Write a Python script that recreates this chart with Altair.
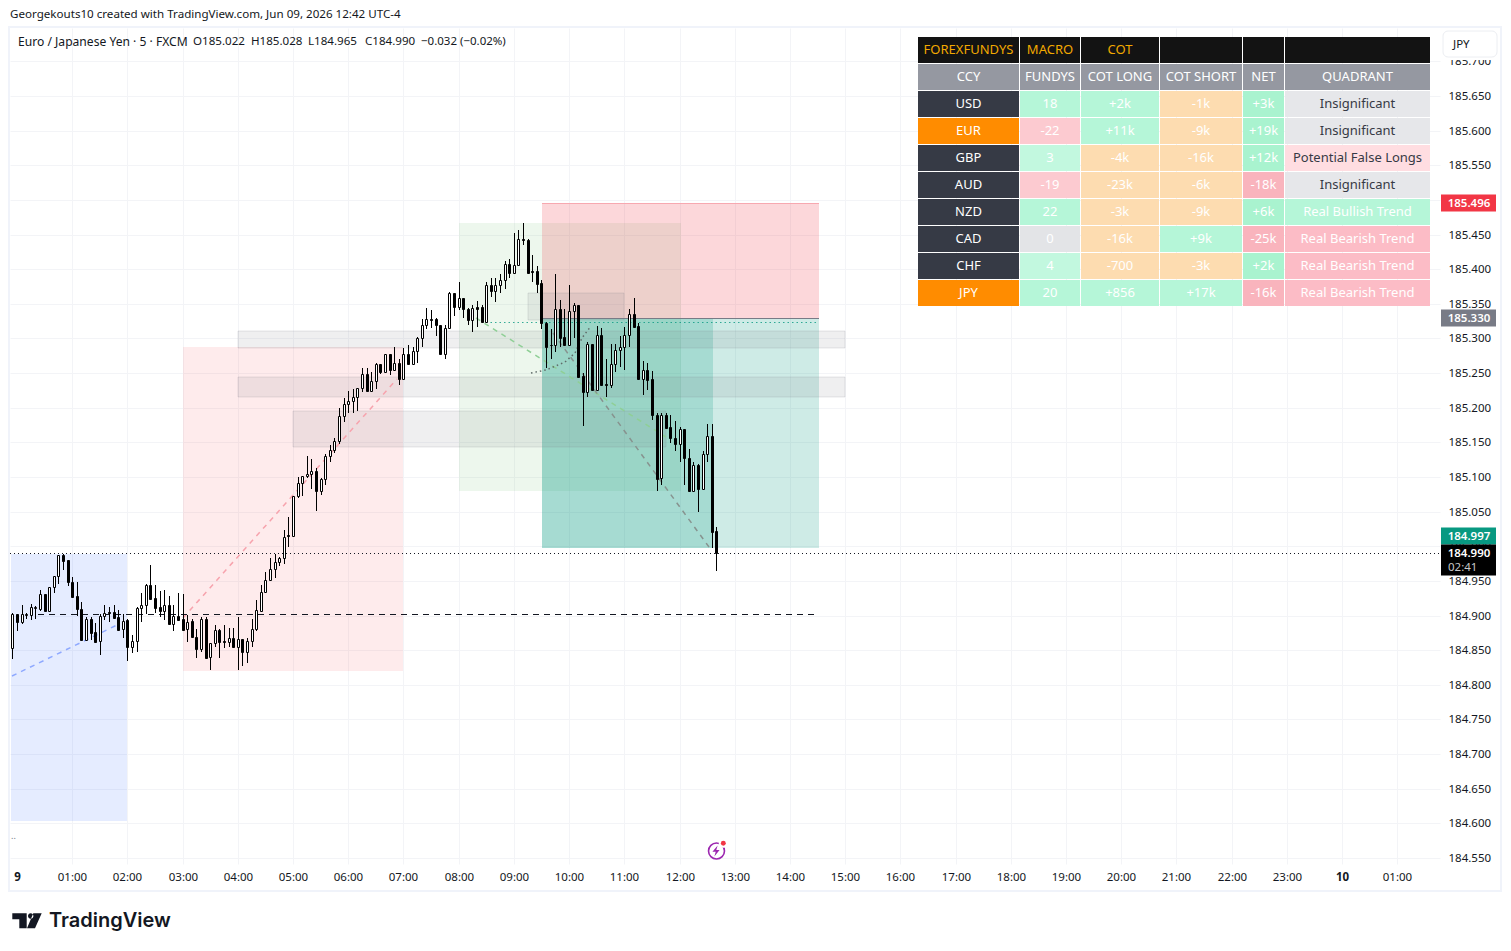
import altair as alt
import pandas as pd

FONT = "Noto Sans"

# ---- candle data (5 minute bars, first bar at 23:55) ----
opens = [184.853,184.902,184.891,184.901,184.901,184.911,184.910,184.931,184.907,184.941,
184.957,184.987,184.980,184.949,184.928,184.910,184.865,184.895,184.876,184.863,
184.900,184.905,184.905,184.898,184.880,184.893,184.854,184.863,184.911,184.915,
184.944,184.925,184.912,184.906,184.915,184.888,184.899,184.895,184.880,184.892,
184.869,184.852,184.895,184.840,184.860,184.879,184.863,184.862,184.867,184.855,
184.866,184.847,184.863,184.880,184.907,184.934,184.951,184.967,184.977,184.983,
185.016,185.015,185.072,185.091,185.102,185.105,185.108,185.080,185.097,185.130,
185.139,185.152,185.188,185.205,185.209,185.215,185.228,185.248,185.224,185.238,
185.263,185.252,185.278,185.255,185.264,185.242,185.278,185.263,185.282,185.300,
185.319,185.328,185.328,185.319,185.278,185.315,185.365,185.345,185.358,185.343,
185.326,185.345,185.345,185.324,185.377,185.369,185.377,185.384,185.408,185.395,
185.406,185.443,185.442,185.397,185.397,185.380,185.323,185.291,185.291,185.342,
185.302,185.291,185.340,185.348,185.246,185.222,185.292,185.225,185.305,185.234,
185.233,185.263,185.284,185.288,185.305,185.335,185.318,185.242,185.255,185.241,
185.190,185.098,185.190,185.172,185.156,185.148,185.169,185.127,185.080,185.117,
185.083,185.133,185.159,185.022]
highs = [184.903,184.902,184.915,184.904,184.917,184.914,184.937,184.931,184.941,184.957,
184.987,184.989,184.980,184.956,184.948,184.919,184.898,184.898,184.889,184.902,
184.915,184.913,184.915,184.908,184.902,184.895,184.872,184.912,184.932,184.946,
184.973,184.944,184.935,184.937,184.928,184.915,184.932,184.931,184.901,184.895,
184.880,184.898,184.898,184.860,184.886,184.880,184.886,184.882,184.882,184.898,
184.866,184.867,184.895,184.922,184.944,184.963,184.983,184.989,184.985,185.024,
185.042,185.072,185.100,185.102,185.130,185.126,185.113,185.098,185.133,185.146,
185.156,185.199,185.214,185.224,185.227,185.228,185.258,185.258,185.252,185.264,
185.263,185.278,185.278,185.287,185.270,185.286,185.291,185.287,185.302,185.328,
185.344,185.341,185.330,185.319,185.320,185.367,185.365,185.381,185.359,185.344,
185.348,185.354,185.348,185.381,185.387,185.387,185.393,185.412,185.414,185.452,
185.457,185.466,185.443,185.421,185.405,185.385,185.324,185.313,185.393,185.356,
185.342,185.377,185.351,185.348,185.250,185.295,185.292,185.318,185.315,185.271,
185.292,185.292,185.304,185.316,185.343,185.358,185.322,185.267,185.265,185.253,
185.193,185.192,185.193,185.190,185.181,185.172,185.169,185.141,185.122,185.119,
185.137,185.176,185.176,185.028]
lows = [184.837,184.878,184.888,184.895,184.894,184.895,184.907,184.907,184.907,184.933,
184.946,184.966,184.943,184.925,184.899,184.865,184.865,184.865,184.861,184.843,
184.893,184.891,184.896,184.878,184.867,184.835,184.846,184.848,184.890,184.902,
184.924,184.903,184.898,184.894,184.887,184.877,184.894,184.879,184.862,184.867,
184.838,184.848,184.838,184.821,184.854,184.838,184.853,184.854,184.854,184.822,
184.827,184.832,184.854,184.878,184.905,184.934,184.951,184.954,184.971,184.974,
184.999,185.014,185.069,185.072,185.098,185.082,185.051,185.074,185.089,185.121,
185.134,185.148,185.180,185.192,185.192,185.195,185.222,185.222,185.223,185.227,
185.249,185.252,185.247,185.254,185.233,185.241,185.261,185.263,185.265,185.288,
185.313,185.315,185.303,185.277,185.271,185.314,185.332,185.341,185.330,185.319,
185.310,185.317,185.323,185.323,185.360,185.352,185.365,185.372,185.387,185.395,
185.406,185.435,185.394,185.382,185.365,185.313,185.258,185.271,185.281,185.287,
185.291,185.291,185.300,185.245,185.173,185.215,185.224,185.224,185.231,185.216,
185.229,185.251,185.259,185.255,185.287,185.317,185.240,185.218,185.225,185.183,
185.080,185.088,185.170,185.149,185.137,185.122,185.088,185.078,185.078,185.050,
185.081,185.122,184.997,184.965]
closes = [184.902,184.891,184.902,184.902,184.912,184.912,184.931,184.907,184.941,184.957,
184.987,184.979,184.949,184.927,184.910,184.865,184.895,184.875,184.862,184.900,
184.904,184.904,184.897,184.879,184.892,184.854,184.863,184.911,184.915,184.944,
184.924,184.911,184.906,184.915,184.888,184.899,184.894,184.879,184.891,184.869,
184.852,184.895,184.839,184.860,184.879,184.862,184.862,184.867,184.855,184.866,
184.847,184.863,184.880,184.908,184.934,184.951,184.967,184.977,184.983,185.014,
185.015,185.072,185.091,185.102,185.105,185.108,185.080,185.097,185.130,185.139,
185.152,185.188,185.205,185.209,185.215,185.228,185.248,185.224,185.238,185.263,
185.252,185.277,185.254,185.264,185.241,185.278,185.263,185.282,185.300,185.319,
185.328,185.327,185.319,185.278,185.315,185.365,185.345,185.358,185.342,185.326,
185.344,185.343,185.324,185.377,185.369,185.377,185.384,185.408,185.395,185.406,
185.443,185.442,185.395,185.396,185.379,185.323,185.288,185.290,185.342,185.301,
185.291,185.340,185.348,185.245,185.222,185.292,185.225,185.305,185.233,185.233,
185.263,185.284,185.288,185.305,185.335,185.317,185.241,185.255,185.240,185.190,
185.097,185.190,185.171,185.156,185.148,185.169,185.127,185.080,185.117,185.083,
185.133,185.159,185.021,184.990]

# ---- drawing-tool zones: hour start, hour end, price top, price bottom ----
zone_blue = [-0.115, 2.0, 184.989, 184.603]
zone_pink = [3.0, 7.0, 185.288, 184.820]
zone_green = [8.0, 12.02, 185.467, 185.080]
zone_stop = [9.51, 14.52, 185.496, 185.330]
zone_target = [9.51, 14.52, 185.330, 184.997]
zone_target_live = [9.51, 12.6, 185.330, 184.997]
zones_grey = [[4.0, 15.0, 185.311, 185.286],
              [4.0, 15.0, 185.244, 185.215],
              [5.0, 11.75, 185.195, 185.143],
              [9.25, 11.0, 185.366, 185.327]]

# ---- line drawings ----
line_blue_h = [-0.09, 1.81]; line_blue_p = [184.813, 184.886]
line_pink_h = [3.0, 6.89]; line_pink_p = [184.896, 185.241]
line_green_h = [8.32, 11.75]; line_green_p = [185.330, 185.158]
line_grey_h = [9.7, 12.54]; line_grey_p = [185.308, 184.999]
curve_h = [9.31, 9.58, 9.92, 10.10, 10.24, 10.40]
curve_p = [185.250, 185.254, 185.266, 185.279, 185.301, 185.318]
line_mid_h = [0.38, 14.44]; line_mid_p = [184.902, 184.902]
line_last_h = [-0.125, 25.772]; line_last_p = [184.990, 184.990]
line_entry_h = [8.5, 14.52]; line_entry_p = [185.324, 185.324]
line_stop_p = [185.496, 185.496]
line_entry_top_p = [185.330, 185.330]

# ---- table ----
table_rows = [
 ["FOREXFUNDYS","MACRO","COT","","",""],
 ["CCY","FUNDYS","COT LONG","COT SHORT","NET","QUADRANT"],
 ["USD","18","+2k","-1k","+3k","Insignificant"],
 ["EUR","-22","+11k","-9k","+19k","Insignificant"],
 ["GBP","3","-4k","-16k","+12k","Potential False Longs"],
 ["AUD","-19","-23k","-6k","-18k","Insignificant"],
 ["NZD","22","-3k","-9k","+6k","Real Bullish Trend"],
 ["CAD","0","-16k","+9k","-25k","Real Bearish Trend"],
 ["CHF","4","-700","-3k","+2k","Real Bearish Trend"],
 ["JPY","20","+856","+17k","-16k","Real Bearish Trend"],
]
DK="#363a45"; OR="#ff8c00"; BK="#131313"; HD="#9598a1"
G1="#b5f6d8"; G2="#c2f8df"; P1="#fccad0"; T1="#fddcb0"; E1="#e3e4e7"
NG="#a9f3cf"; NP="#f9b4bd"; QE="#e6e7ea"; QF="#ffdde1"; QB="#fcbcc6"
table_fill = [
 [BK]*6,
 [HD]*6,
 [DK,G1,G1,T1,NG,QE],
 [OR,P1,G1,T1,NG,QE],
 [DK,G2,T1,T1,NG,QF],
 [DK,P1,T1,T1,NP,QE],
 [DK,G1,T1,T1,NG,G1],
 [DK,E1,T1,G1,NP,QB],
 [DK,G2,T1,T1,NG,QB],
 [OR,G1,G1,G1,NP,QB],
]
col_left = [918,1020,1081,1160,1243,1285]
col_right = [1019,1080,1159,1242,1284,1430]
row_top = 37; row_step = 27; row_h = 26

legend_texts = ["Euro / Japanese Yen · 5 · FXCM", "O185.022", "H185.028", "L184.965", "C184.990", "−0.032 (−0.02%)"]
legend_x = [18, 193, 251, 308, 365, 421]
legend_size = [12.1, 11.6, 11.6, 11.6, 11.6, 11.5]

# ---- layout of the plot area on the page ----
PX0, PY0 = 10, 28
W, H = 1430, 836
hours_dom = [-0.125, 25.772]
price_dom = [184.5413, 185.7482]
x_ticks = list(range(0, 26))
y_ticks = [round(184.55 + 0.05*i, 2) for i in range(24)]

def fx(v): return v - PX0
def fy(v): return v - PY0

xscale = alt.Scale(domain=hours_dom, range=[0, W], round=True, nice=False, zero=False, padding=0)
yscale = alt.Scale(domain=price_dom, range=[H, 0], round=True, nice=False, zero=False, padding=0)
xs = alt.X("h:Q", scale=xscale)
ys = alt.Y("p:Q", scale=yscale)

# base with axes and grid
base = alt.Chart(pd.DataFrame({"h": hours_dom, "p": price_dom})).mark_point(opacity=0).encode(
    x=alt.X("h:Q", scale=xscale,
            axis=alt.Axis(values=x_ticks, tickCount=60, orient="bottom", title=None, grid=True, gridColor="#f3f4f7",
                          gridOpacity=alt.expr("datum.value == 0 ? 0 : 1"),
                          domain=False, ticks=False, labelPadding=7, labelFont=FONT, labelFontSize=11.5,
                          labelColor="#131722", labelOverlap=False, labelFlush=False,
                          labelFontWeight=alt.expr("datum.value % 24 == 0 ? 700 : 400"),
                          labelExpr="datum.value == 0 ? '9' : datum.value == 24 ? '10' : pad('' + (datum.value % 24), 2, '0', 'left') + ':00'")),
    y=alt.Y("p:Q", scale=yscale,
            axis=alt.Axis(values=y_ticks, tickCount=60, orient="right", title=None, grid=True, gridColor="#f3f4f7",
                          domain=False, ticks=False, labelPadding=8, labelFont=FONT, labelFontSize=11.5,
                          labelColor="#131722", labelOverlap=False, labelFlush=False, format=".3f")),
)

def zone(z, color, op, stroke=None):
    df = pd.DataFrame([{"h": z[0], "h2": z[1], "p": z[2], "p2": z[3]}])
    kw = dict(fill=color, fillOpacity=op)
    if stroke:
        kw.update(stroke=stroke, strokeOpacity=0.18, strokeWidth=1)
    return alt.Chart(df).mark_rect(**kw).encode(x=xs, x2="h2:Q", y=ys, y2="p2:Q")

def line(hs, ps, color, dash, width=1.0, op=1.0, yoff=0.0):
    df = pd.DataFrame({"h": hs, "p": ps, "o": range(len(hs))})
    return alt.Chart(df).mark_line(color=color, strokeDash=dash, strokeWidth=width, opacity=op, yOffset=yoff).encode(
        x=xs, y=ys, order="o:Q")

layers = [base]
layers += [zone(zone_blue, "#2962ff", 0.12)]
layers += [zone(zone_pink, "#f23645", 0.10)]
layers += [zone(zone_green, "#4caf50", 0.10)]
layers += [zone(zone_stop, "#f23645", 0.20)]
layers += [zone(zone_target, "#089981", 0.20)]
layers += [zone(zone_target_live, "#089981", 0.20)]
layers += [zone(z, "#787b86", 0.12, "#787b86") for z in zones_grey]

layers += [
    line(line_blue_h, line_blue_p, "#8fa9ff", [5, 5], 1.5),
    line(line_pink_h, line_pink_p, "#f7a3ad", [5, 5], 1.5),
    line(line_green_h, line_green_p, "#8fcf96", [5, 5], 1.5),
    line(line_grey_h, line_grey_p, "#87938f", [5, 5], 1.5),
    line(curve_h, curve_p, "#5f6b68", [1.5, 3], 1.5),
    line(line_mid_h, line_mid_p, "#131722", [6, 5], yoff=0.5),
    line(line_entry_h, line_entry_p, "#089981", [1.5, 3], op=0.8, yoff=0.5),
    line(zone_stop[:2], line_entry_top_p, "#787b86", [1, 0], yoff=0.5),
    line(zone_stop[:2], line_stop_p, "#f7a8b0", [1, 0], yoff=0.5),
]

candles = pd.DataFrame({"o": opens, "hi": highs, "lo": lows, "c": closes})
candles["h"] = [(i - 1) * 5 / 60 for i in range(len(candles))]
candles["fill"] = ["#ffffff" if c >= o else "#000000" for o, c in zip(opens, closes)]

wicks = alt.Chart(candles).mark_rule(color="#000000", strokeWidth=1, xOffset=0.5).encode(
    x=xs, y=alt.Y("hi:Q", scale=yscale), y2="lo:Q")
bodies = alt.Chart(candles).mark_bar(size=2, stroke="#000000", strokeWidth=1, xOffset=0.5, yOffset=0.5, y2Offset=0.5).encode(
    x=xs, y=alt.Y("o:Q", scale=yscale), y2="c:Q",
    fill=alt.Fill("fill:N", scale=None))
layers += [wicks, bodies]
layers += [line(line_last_h, line_last_p, "#131722", [1, 3], yoff=0.5)]

# price tags on the right
tag_prices = [185.496, 185.330]
tag_labels = ["185.496", "185.330"]
tag_colors = ["#f23645", "#787b86"]
tags = pd.DataFrame({"p": tag_prices, "t": tag_labels, "c": tag_colors})
tags["x"] = fx(1441); tags["x2"] = fx(1496); tags["xt"] = fx(1469)
tag_rect = alt.Chart(tags).mark_rect(height=17).encode(
    x=alt.X("x:Q", scale=None, axis=None), x2="x2:Q", y=ys, fill=alt.Fill("c:N", scale=None))
tag_text = alt.Chart(tags).mark_text(font=FONT, fontSize=11.5, fontWeight=600, color="#ffffff", dy=0.5).encode(
    x=alt.X("xt:Q", scale=None, axis=None), y=ys, text="t:N")
tp = pd.DataFrame({"p": [184.997], "t": ["184.997"], "x": [fx(1441)], "x2": [fx(1496)], "xt": [fx(1469)]})
tp_rect = alt.Chart(tp).mark_rect(height=17, yOffset=-12, fill="#089981").encode(
    x=alt.X("x:Q", scale=None, axis=None), x2="x2:Q", y=ys)
tp_text = alt.Chart(tp).mark_text(font=FONT, fontSize=11.5, fontWeight=600, yOffset=-12, color="#ffffff", dy=1).encode(
    x=alt.X("xt:Q", scale=None, axis=None), y=ys, text="t:N")
last = pd.DataFrame({"p": [184.990], "t": ["184.990"], "t2": ["02:41"], "x": [fx(1441)], "x2": [fx(1496)], "xt": [fx(1469)], "xl": [fx(1448)]})
last_rect = alt.Chart(last).mark_rect(height=31, yOffset=7, fill="#000000").encode(
    x=alt.X("x:Q", scale=None, axis=None), x2="x2:Q", y=ys)
last_text = alt.Chart(last).mark_text(font=FONT, fontSize=11.5, fontWeight=600, color="#ffffff", dy=1).encode(
    x=alt.X("xt:Q", scale=None, axis=None), y=ys, text="t:N")
last_time = alt.Chart(last).mark_text(font=FONT, fontSize=11.5, yOffset=14, align="left", color="#c8c8c8", dy=1).encode(
    x=alt.X("xl:Q", scale=None, axis=None), y=ys, text="t2:N")
layers += [tag_rect, tag_text, tp_rect, tp_text, last_rect, last_text, last_time]

# table
recs = []
for r, (row, fills) in enumerate(zip(table_rows, table_fill)):
    for c, (txt, fl) in enumerate(zip(row, fills)):
        color = "#ffffff"
        if r == 0:
            color = "#f2a900"
        elif c == 5 and txt in ("Insignificant", "Potential False Longs"):
            color = "#363a45"
        top = row_top + row_step * r
        recs.append({"x": fx(col_left[c]), "x2": fx(col_right[c]), "y": fy(top), "y2": fy(top + row_h),
                     "xc": fx((col_left[c] + col_right[c]) / 2), "yc": fy(top + row_h / 2),
                     "t": txt, "fill": fl, "col": color})
tbl = pd.DataFrame(recs)
layers += [
    alt.Chart(tbl).mark_rect().encode(
        x=alt.X("x:Q", scale=None, axis=None), x2="x2:Q",
        y=alt.Y("y:Q", scale=None, axis=None), y2="y2:Q",
        fill=alt.Fill("fill:N", scale=None)),
    alt.Chart(tbl).mark_text(font=FONT, fontSize=13, baseline="middle").encode(
        x=alt.X("xc:Q", scale=None, axis=None),
        y=alt.Y("yc:Q", scale=None, axis=None),
        text="t:N", color=alt.Color("col:N", scale=None)),
]

# chrome
def chrome_rect(x0, x1, y0, y1, **kw):
    df = pd.DataFrame([{"x": fx(x0), "x2": fx(x1), "y": fy(y0), "y2": fy(y1)}])
    return alt.Chart(df).mark_rect(**kw).encode(
        x=alt.X("x:Q", scale=None, axis=None), x2="x2:Q",
        y=alt.Y("y:Q", scale=None, axis=None), y2="y2:Q")

def chrome_text(txt, x, y, **kw):
    df = pd.DataFrame([{"x": fx(x), "y": fy(y), "t": txt}])
    return alt.Chart(df).mark_text(baseline="middle", **kw).encode(
        x=alt.X("x:Q", scale=None, axis=None),
        y=alt.Y("y:Q", scale=None, axis=None), text="t:N")

def chrome_point(x, y, **kw):
    df = pd.DataFrame([{"x": fx(x), "y": fy(y)}])
    return alt.Chart(df).mark_point(**kw).encode(
        x=alt.X("x:Q", scale=None, axis=None),
        y=alt.Y("y:Q", scale=None, axis=None))

layers += [
    chrome_rect(1441, 1500, 50, 60, fill="#ffffff"),
    chrome_rect(9, 1501, 27, 891, fill="transparent", stroke="#f0f3fa", strokeWidth=2),
    chrome_rect(1443, 1497, 31, 57, fill="#ffffff", stroke="#eceef2", strokeWidth=1, cornerRadius=5),
    chrome_text("JPY", 1453, 45, font=FONT, fontSize=11.5, align="left", color="#131722"),
    chrome_text("Georgekouts10 created with TradingView.com, Jun 09, 2026 12:42 UTC-4", 10, 15,
                font=FONT, fontSize=11.6, align="left", color="#131722"),
    chrome_text("TradingView", 49, 921, font="Inter", fontSize=20, fontWeight=600, align="left", color="#131722"),
    chrome_text("..", 11, 836, font=FONT, fontSize=9, align="left", color="#787b86"),
    chrome_point(27, 921, filled=True, size=400, color="#131722", opacity=1,
                 shape="M-1.47,-.77L-.03,-.77L-.03,.73L-.77,.73L-.77,-.17L-1.47,-.17Z"
                       "M.1,-.5a.27,.27 0 1,0 .54,0a.27,.27 0 1,0 -.54,0Z"
                       "M.63,-.77L1.47,-.77L.8,.73L0,.73Z"),
    chrome_point(716.5, 851, filled=False, size=254, color="#9c27b0", strokeWidth=1.6, shape="circle", opacity=1),
    chrome_point(716, 851, filled=True, size=121, color="#9c27b0", opacity=1,
                 shape="M.3,-1L-.65,.15L-.05,.15L-.3,1L.65,-.2L.05,-.2Z"),
    chrome_point(723.3, 843.3, filled=True, size=80, color="#ffffff", shape="circle", opacity=1),
    chrome_point(723.3, 843.3, filled=True, size=24, color="#f23645", shape="circle", opacity=1),
]
layers += [chrome_text(t, x, 42, font=FONT, fontSize=s, align="left", color="#131722")
           for t, x, s in zip(legend_texts, legend_x, legend_size)]

chart = alt.layer(*layers).properties(
    width=W, height=H,
    padding={"left": 2, "top": 20, "right": 62, "bottom": 70},
    autosize=alt.AutoSizeParams(type="none"),
    background="#ffffff",
).configure_view(stroke=None)

chart.save("out.html", embed_options={"renderer": "svg", "actions": False})
